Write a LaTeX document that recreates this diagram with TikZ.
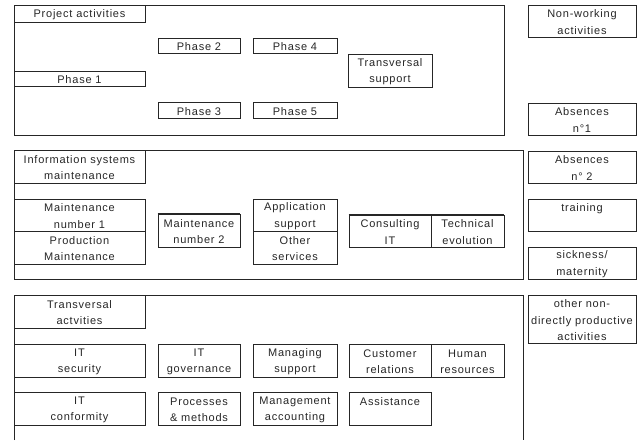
\documentclass[tikz,border=0pt]{standalone}
\usepackage{fontspec}
\newfontfamily\dfont{Liberation Sans}[LetterSpace=7]
\tikzset{
  ln/.style={draw=black!85, line width=0.8pt},
  box/.style={ln, rectangle, inner sep=0pt},
  lbl/.style={inner sep=0pt, align=center, text=black!85,
    font={\dfont\fontsize{11}{16.5}\selectfont}},
}
\newcommand\bx[6]{%
  \node[box, minimum width={#4-#2}, minimum height={#5-#3}] (#1) at ({(#2+#4)/2},{(#3+#5)/2}) {};
  \node[lbl] (#1t) at ([yshift=-1.2pt]#1.center) {#6};}
\begin{document}
\begin{tikzpicture}[x=1pt,y=-1pt]
\useasboundingbox (0,0) rectangle (641,440);
% containers
\node[box, minimum width=490, minimum height=130] (proj) at (259,70) {};
\node[box, minimum width=509, minimum height=129] (ism) at (268.5,214.5) {};
\coordinate (tl) at (14,295);
\coordinate (tr) at (523,295);
\coordinate (bl) at (14,440);
\coordinate (br) at (523,440);
\draw[ln] (bl) -- (tl) -- (tr) -- (br);
% project activities
\bx{pa}{14}{5}{145}{22}{Project activities}
\bx{p1}{14}{71}{145}{86}{Phase 1}
\bx{p2}{158}{38}{240}{53}{Phase 2}
\bx{p4}{253}{38}{337}{53}{Phase 4}
\bx{p3}{158}{102}{240}{118}{Phase 3}
\bx{p5}{253}{102}{337}{118}{Phase 5}
\bx{ts}{348}{54}{432}{87}{Transversal\\support}
% IS maintenance
\bx{isb}{14}{150}{145}{183}{Information systems\\maintenance}
\bx{m1}{14}{199}{145}{231}{Maintenance\\number 1}
\bx{pm}{14}{231}{145}{264}{Production\\Maintenance}
\bx{m2}{158}{214}{240}{247}{Maintenance\\number 2}
\draw[line width=1.6pt, black!85] (m2.north west) -- (m2.north east);
\bx{as}{253}{199}{337}{231}{Application\\support}
\bx{os}{253}{231}{337}{264}{Other\\services}
\bx{cit}{349}{215}{431}{247}{Consulting\\IT}
\bx{te}{431}{215}{504}{247}{Technical\\evolution}
\draw[line width=1.6pt, black!85] (cit.north west) -- (te.north east);
% transversal
\bx{ta}{14}{295}{145}{328}{Transversal\\actvities}
\bx{its}{14}{344}{145}{377}{IT\\security}
\bx{itg}{158}{344}{240}{377}{IT\\governance}
\bx{ms}{253}{344}{337}{377}{Managing\\support}
\bx{cr}{349}{344}{431}{377}{Customer\\relations}
\bx{hr}{431}{344}{504}{377}{Human\\resources}
\bx{itc}{14}{392}{145}{425}{IT\\conformity}
\bx{prm}{158}{392}{240}{425}{Processes\\\& methods}
\bx{ma}{253}{392}{337}{425}{Management\\accounting}
\bx{asl}{349}{392}{431}{425}{Assistance\\~}
% right column
\bx{nw}{528}{5}{636}{37}{Non-working\\activities}
\bx{a1}{528}{103}{636}{135}{Absences\\n°1}
\bx{a2}{528}{151}{636}{183}{Absences\\n° 2}
\bx{trn}{528}{199}{636}{231}{training\\~}
\bx{sm}{528}{247}{636}{279}{sickness/\\maternity}
\bx{ond}{528}{295}{636}{343}{other non-\\directly productive\\activities}
\end{tikzpicture}
\end{document}
